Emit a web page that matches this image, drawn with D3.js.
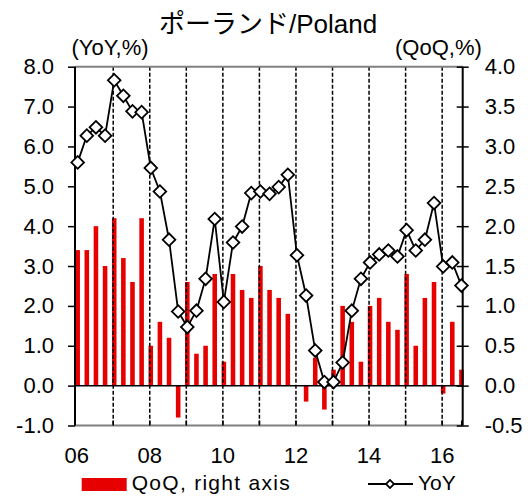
<!DOCTYPE html>
<html><head><meta charset="utf-8">
<script src="https://cdn.jsdelivr.net/npm/d3@7"></script>
<style>
body{margin:0;background:#fff;}
svg{display:block;font-family:"Liberation Sans",Arial,"Noto Sans CJK JP",sans-serif;}
</style></head>
<body><svg id="c" width="528" height="496"></svg>
<script>
const quarters = [];
for (let y = 2006; y <= 2016; y++) for (let q = 1; q <= 4; q++) if (!(y === 2016 && q === 4)) quarters.push(y + "Q" + q);
const qoq = [1.7,1.7,2.0,1.5, 2.1,1.6,1.3,2.1, 0.5,0.8,0.6,-0.4, 1.3,0.4,0.5,1.4,
             0.3,1.4,1.2,1.1, 1.5,1.2,1.1,0.9, 0.0,-0.2,0.35,-0.3, 0.2,1.0,0.8,0.3,
             1.0,1.1,0.8,0.7, 1.4,0.5,1.1,1.3, -0.1,0.8,0.2];
const yoy = [5.60,6.27,6.48,6.27, 7.66,7.27,6.88,6.86, 5.46,4.87,3.66,1.86, 1.47,1.88,2.68,4.18,
             2.10,3.59,3.99,4.83, 4.87,4.81,4.98,5.29, 3.27,2.26,0.88,0.09, 0.09,0.58,1.88,2.68,
             3.09,3.29,3.39,3.24, 3.90,3.39,3.66,4.58, 2.99,3.09,2.51];
const leftTicks = [-1,0,1,2,3,4,5,6,7,8];
const rightTicks = [-0.5,0,0.5,1,1.5,2,2.5,3,3.5,4];
const yearLabels = ["06","08","10","12","14","16"];

const svg = d3.select("#c");
const L = 75, R = 462.7, T = 66.7, B = 425.5;
const x = d3.scaleBand().domain(quarters).range([73.1, 466]).paddingInner(0.5).paddingOuter(0.25);
const cx = d => x(d) + x.bandwidth() / 2;
const yL = d3.scaleLinear().domain([-1, 8]).range([B, T]);
const yR = d3.scaleLinear().domain([-0.5, 4]).range([B, T]);
const red = "#e60000";
const fmt = d => d3.format(".1f")(d).replace("\u2212", "-");

// bars
svg.append("g").selectAll("rect").data(quarters).join("rect")
  .attr("x", d => x(d)).attr("width", x.bandwidth())
  .attr("y", (d, i) => yR(Math.max(0, qoq[i])))
  .attr("height", (d, i) => Math.abs(yR(qoq[i]) - yR(0)))
  .attr("fill", red);

// dashed year lines
const q1s = quarters.filter(q => q.endsWith("Q1") && q !== "2006Q1");
svg.append("g").selectAll("line").data(q1s).join("line")
  .attr("x1", d => cx(d) - 1).attr("x2", d => cx(d) - 1)
  .attr("y1", T).attr("y2", B)
  .attr("stroke", "#000").attr("stroke-width", 1.5).attr("stroke-dasharray", "4,2");

// top border and bottom line (gray)
svg.append("line").attr("x1", L).attr("x2", R).attr("y1", T).attr("y2", T).attr("stroke", "#808080").attr("stroke-width", 2);
svg.append("line").attr("x1", L).attr("x2", R).attr("y1", B).attr("y2", B).attr("stroke", "#808080").attr("stroke-width", 2);
// zero line
svg.append("line").attr("x1", L).attr("x2", R).attr("y1", yL(0)).attr("y2", yL(0)).attr("stroke", "#000").attr("stroke-width", 1.5);

// x ticks (inward)
const xTickPos = [L].concat(q1s.map(d => cx(d) - 1)).concat([R - 1]);
svg.append("g").selectAll("line").data(xTickPos).join("line")
  .attr("x1", d => d).attr("x2", d => d).attr("y1", B - 5).attr("y2", B)
  .attr("stroke", "#000").attr("stroke-width", 1.5);

// x labels
const labelQs = yearLabels.map(s => "20" + s + "Q1");
svg.append("g").selectAll("text").data(labelQs).join("text")
  .attr("x", d => cx(d) - 1).attr("y", 463)
  .attr("text-anchor", "middle").attr("font-size", 22)
  .text((d, i) => yearLabels[i]);

// left axis
const gl = svg.append("g").attr("transform", `translate(${L},0)`)
  .call(d3.axisLeft(yL).tickValues(leftTicks).tickFormat(fmt).tickSize(7).tickPadding(14));
gl.select(".domain").attr("stroke", "#000").attr("stroke-width", 2).attr("d", `M0,${T}V${B}`);
gl.selectAll(".tick line").attr("stroke-width", 1.5);
gl.selectAll(".tick text").attr("font-size", 22).attr("font-family", null).attr("fill", "#000");

// right axis
const gr = svg.append("g").attr("transform", `translate(${R},0)`)
  .call(d3.axisRight(yR).tickValues(rightTicks).tickFormat(fmt).tickSize(6).tickPadding(16));
gr.select(".domain").attr("stroke", "#000").attr("stroke-width", 2).attr("d", `M0,${T}V${B}`);
gr.selectAll(".tick line").attr("x1", -6).attr("x2", 6).attr("stroke-width", 1.5);
gr.selectAll(".tick text").attr("font-size", 22).attr("font-family", null).attr("fill", "#000");

// YoY line
const line = d3.line().x((d, i) => cx(quarters[i])).y(d => yL(d));
svg.append("path").datum(yoy).attr("d", line).attr("fill", "none").attr("stroke", "#000").attr("stroke-width", 1.8);
const diamond = d3.symbol().type(d3.symbolSquare).size(80);
svg.append("g").selectAll("path").data(yoy).join("path")
  .attr("d", diamond())
  .attr("transform", (d, i) => `translate(${cx(quarters[i])},${yL(d)}) rotate(45)`)
  .attr("fill", "#fff").attr("stroke", "#000").attr("stroke-width", 1.8);

// titles
svg.append("text").attr("x", 268).attr("y", 33).attr("text-anchor", "middle").attr("font-size", 26).text("ポーランド/Poland");
svg.append("text").attr("x", 71.5).attr("y", 55).attr("font-size", 22).attr("textLength", 77).attr("lengthAdjust", "spacingAndGlyphs").text("(YoY,%)");
svg.append("text").attr("x", 395).attr("y", 55).attr("font-size", 22).text("(QoQ,%)");

// legend
svg.append("rect").attr("x", 81.7).attr("y", 478).attr("width", 45).attr("height", 13).attr("fill", red);
svg.append("text").attr("x", 131.7).attr("y", 490).attr("font-size", 21).attr("textLength", 158).attr("lengthAdjust", "spacing").text("QoQ, right axis");
svg.append("line").attr("x1", 368).attr("x2", 413).attr("y1", 484).attr("y2", 484).attr("stroke", "#000").attr("stroke-width", 1.8);
svg.append("path").attr("d", d3.symbol().type(d3.symbolSquare).size(32)())
  .attr("transform", "translate(390,484) rotate(45)").attr("fill", "#fff").attr("stroke", "#000").attr("stroke-width", 1.8);
svg.append("text").attr("x", 418).attr("y", 490).attr("font-size", 21).text("YoY");
</script></body></html>
